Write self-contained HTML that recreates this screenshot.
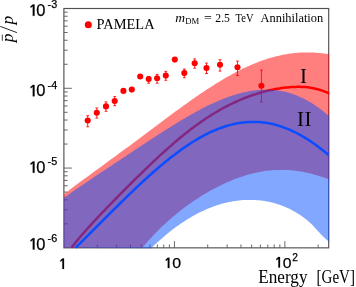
<!DOCTYPE html>
<html><head><meta charset="utf-8"><title>chart</title>
<style>
html,body{margin:0;padding:0;background:#fff;}
body{width:356px;height:287px;overflow:hidden;position:relative;font-family:"Liberation Sans",sans-serif;}
svg{position:absolute;left:0;top:0;display:block;will-change:transform;}
text{fill:#000;}
.sans{font-family:"Liberation Sans",sans-serif;}
.serif{font-family:"Liberation Serif",serif;}
</style></head><body>
<svg width="356" height="287" viewBox="0 0 356 287">
<defs><clipPath id="cp"><rect x="63.9" y="8.5" width="265.40000000000003" height="239.95"/></clipPath></defs>
<rect x="0" y="0" width="356" height="287" fill="#fff"/>
<path d="M97.25 247.85 V244.45 M116.70 247.85 V244.45 M130.50 247.85 V244.45 M141.20 247.85 V244.45 M149.95 247.85 V244.45 M157.34 247.85 V244.45 M163.75 247.85 V244.45 M169.40 247.85 V244.45 M174.45 247.85 V241.05 M207.70 247.85 V244.45 M227.15 247.85 V244.45 M240.95 247.85 V244.45 M251.65 247.85 V244.45 M260.40 247.85 V244.45 M267.79 247.85 V244.45 M274.20 247.85 V244.45 M279.85 247.85 V244.45 M284.90 247.85 V241.05 M318.15 247.85 V244.45 M63.90 223.83 H67.70 M63.90 209.79 H67.70 M63.90 199.82 H67.70 M63.90 192.09 H67.70 M63.90 185.77 H67.70 M63.90 180.43 H67.70 M63.90 175.80 H67.70 M63.90 171.72 H67.70 M63.90 168.07 H71.90 M63.90 144.05 H67.70 M63.90 130.01 H67.70 M63.90 120.04 H67.70 M63.90 112.31 H67.70 M63.90 105.99 H67.70 M63.90 100.65 H67.70 M63.90 96.02 H67.70 M63.90 91.94 H67.70 M63.90 88.29 H71.90 M63.90 64.27 H67.70 M63.90 50.23 H67.70 M63.90 40.26 H67.70 M63.90 32.53 H67.70 M63.90 26.21 H67.70 M63.90 20.87 H67.70 M63.90 16.24 H67.70 M63.90 12.16 H67.70" stroke="#505050" stroke-width="0.85" fill="none"/>
<rect x="63.9" y="8.5" width="264.8" height="239.35" fill="none" stroke="#505050" stroke-width="1.15"/>
<g clip-path="url(#cp)">
<path d="M64.0 194.3 L66.0 192.7 L68.0 191.2 L70.0 189.6 L72.0 188.1 L74.0 186.6 L76.0 185.1 L78.0 183.6 L80.0 182.1 L82.0 180.6 L84.0 179.1 L86.0 177.7 L88.0 176.2 L90.0 174.7 L92.0 173.3 L94.0 171.8 L96.0 170.3 L98.0 168.9 L100.0 167.4 L102.0 165.9 L104.0 164.5 L106.0 163.0 L108.0 161.6 L110.0 160.1 L112.0 158.6 L114.0 157.2 L116.0 155.7 L118.0 154.2 L120.0 152.8 L122.0 151.3 L124.0 149.8 L126.0 148.3 L128.0 146.9 L130.0 145.4 L132.0 143.9 L134.0 142.4 L136.0 140.9 L138.0 139.4 L140.0 137.9 L142.0 136.4 L144.0 134.9 L146.0 133.4 L148.0 132.0 L150.0 130.5 L152.0 129.0 L154.0 127.5 L156.0 126.0 L158.0 124.5 L160.0 123.0 L162.0 121.5 L164.0 120.0 L166.0 118.5 L168.0 117.0 L170.0 115.5 L172.0 114.1 L174.0 112.6 L176.0 111.1 L178.0 109.7 L180.0 108.2 L182.0 106.8 L184.0 105.3 L186.0 103.9 L188.0 102.5 L190.0 101.0 L192.0 99.6 L194.0 98.2 L196.0 96.8 L198.0 95.5 L200.0 94.1 L202.0 92.7 L204.0 91.4 L206.0 90.1 L208.0 88.7 L210.0 87.4 L212.0 86.2 L214.0 84.9 L216.0 83.6 L218.0 82.4 L220.0 81.2 L222.0 80.0 L224.0 78.8 L226.0 77.6 L228.0 76.5 L230.0 75.4 L232.0 74.3 L234.0 73.2 L236.0 72.1 L238.0 71.1 L240.0 70.1 L242.0 69.1 L244.0 68.1 L246.0 67.2 L248.0 66.3 L250.0 65.4 L252.0 64.5 L254.0 63.7 L256.0 62.9 L258.0 62.1 L260.0 61.3 L262.0 60.6 L264.0 59.9 L266.0 59.2 L268.0 58.6 L270.0 58.0 L272.0 57.4 L274.0 56.9 L276.0 56.3 L278.0 55.9 L280.0 55.4 L282.0 55.0 L284.0 54.6 L286.0 54.2 L288.0 53.9 L290.0 53.6 L292.0 53.4 L294.0 53.1 L296.0 52.9 L298.0 52.8 L300.0 52.6 L302.0 52.5 L304.0 52.5 L306.0 52.4 L308.0 52.4 L310.0 52.5 L312.0 52.5 L314.0 52.6 L316.0 52.7 L318.0 52.9 L320.0 53.1 L322.0 53.3 L324.0 53.6 L326.0 53.8 L328.0 54.1 L329.7 54.4 L329.7 179.7 L328.5 179.2 L326.5 178.5 L324.5 177.8 L322.5 177.1 L320.5 176.5 L318.5 175.8 L316.5 175.2 L314.5 174.7 L312.5 174.1 L310.5 173.6 L308.5 173.1 L306.5 172.7 L304.5 172.2 L302.5 171.8 L300.5 171.5 L298.5 171.2 L296.5 170.9 L294.5 170.6 L292.5 170.4 L290.5 170.2 L288.5 170.1 L286.5 170.0 L284.5 169.9 L282.5 169.9 L280.5 169.9 L278.5 169.9 L276.5 170.0 L274.5 170.1 L272.5 170.2 L270.5 170.4 L268.5 170.6 L266.5 170.8 L264.5 171.1 L262.5 171.4 L260.5 171.8 L258.5 172.2 L256.5 172.6 L254.5 173.0 L252.5 173.5 L250.5 174.0 L248.5 174.6 L246.5 175.1 L244.5 175.7 L242.5 176.4 L240.5 177.1 L238.5 177.8 L236.5 178.5 L234.5 179.3 L232.5 180.0 L230.5 180.9 L228.5 181.7 L226.5 182.6 L224.5 183.5 L222.5 184.4 L220.5 185.4 L218.5 186.4 L216.5 187.4 L214.5 188.5 L212.5 189.5 L210.5 190.6 L208.5 191.8 L206.5 192.9 L204.5 194.1 L202.5 195.3 L200.5 196.6 L198.5 197.9 L196.5 199.2 L194.5 200.5 L192.5 201.8 L190.5 203.2 L188.5 204.6 L186.5 206.1 L184.5 207.6 L182.5 209.1 L180.5 210.6 L178.5 212.2 L176.5 213.8 L174.5 215.5 L172.5 217.1 L170.5 218.9 L168.5 220.6 L166.5 222.4 L164.5 224.3 L162.5 226.1 L160.5 228.1 L158.5 230.0 L156.5 232.0 L154.5 234.1 L152.5 236.2 L150.5 238.4 L148.5 240.6 L146.5 242.9 L144.5 245.2 L142.5 247.6 L63.9 247.8 Z" fill="#ff0000" fill-opacity="0.5"/>
<path d="M71.5 247.6 L73.5 245.1 L75.5 242.6 L77.5 240.1 L79.5 237.7 L81.5 235.4 L83.5 233.1 L85.5 230.8 L87.5 228.5 L89.5 226.3 L91.5 224.1 L93.5 221.9 L95.5 219.8 L97.5 217.6 L99.5 215.5 L101.5 213.4 L103.5 211.3 L105.5 209.3 L107.5 207.2 L109.5 205.1 L111.5 203.1 L113.5 201.0 L115.5 199.0 L117.5 197.0 L119.5 194.9 L121.5 192.9 L123.5 190.9 L125.5 188.9 L127.5 186.9 L129.5 184.9 L131.5 182.9 L133.5 180.9 L135.5 178.9 L137.5 177.0 L139.5 175.0 L141.5 173.1 L143.5 171.1 L145.5 169.2 L147.5 167.3 L149.5 165.3 L151.5 163.4 L153.5 161.5 L155.5 159.7 L157.5 157.8 L159.5 155.9 L161.5 154.1 L163.5 152.3 L165.5 150.5 L167.5 148.7 L169.5 146.9 L171.5 145.2 L173.5 143.4 L175.5 141.7 L177.5 140.0 L179.5 138.3 L181.5 136.7 L183.5 135.1 L185.5 133.5 L187.5 131.9 L189.5 130.3 L191.5 128.8 L193.5 127.3 L195.5 125.8 L197.5 124.4 L199.5 122.9 L201.5 121.5 L203.5 120.2 L205.5 118.8 L207.5 117.5 L209.5 116.2 L211.5 114.9 L213.5 113.7 L215.5 112.5 L217.5 111.3 L219.5 110.2 L221.5 109.0 L223.5 107.9 L225.5 106.9 L227.5 105.8 L229.5 104.8 L231.5 103.8 L233.5 102.9 L235.5 102.0 L237.5 101.1 L239.5 100.2 L241.5 99.3 L243.5 98.5 L245.5 97.7 L247.5 97.0 L249.5 96.2 L251.5 95.5 L253.5 94.8 L255.5 94.2 L257.5 93.6 L259.5 93.0 L261.5 92.4 L263.5 91.8 L265.5 91.3 L267.5 90.8 L269.5 90.3 L271.5 89.9 L273.5 89.5 L275.5 89.1 L277.5 88.7 L279.5 88.4 L281.5 88.1 L283.5 87.8 L285.5 87.6 L287.5 87.4 L289.5 87.2 L291.5 87.0 L293.5 86.9 L295.5 86.9 L297.5 86.8 L299.5 86.8 L301.5 86.9 L303.5 87.0 L305.5 87.1 L307.5 87.3 L309.5 87.6 L311.5 87.9 L313.5 88.2 L315.5 88.7 L317.5 89.2 L319.5 89.7 L321.5 90.4 L323.5 91.1 L325.5 91.9 L327.5 92.7 L329.5 93.7 L329.7 93.8" fill="none" stroke="#ff0000" stroke-width="2.5" stroke-linejoin="round"/>
<path d="M87.7 115.7 V126.8" stroke="#ff0000" stroke-width="0.85" fill="none"/><path d="M86.3 115.7 H89.1 M86.3 126.8 H89.1" stroke="#ff0000" stroke-width="0.85" fill="none"/><circle cx="87.7" cy="120.6" r="3.05" fill="#ff0000"/><path d="M96.8 108.0 V118.1" stroke="#ff0000" stroke-width="0.85" fill="none"/><path d="M95.4 108.0 H98.2 M95.4 118.1 H98.2" stroke="#ff0000" stroke-width="0.85" fill="none"/><circle cx="96.8" cy="112.8" r="3.05" fill="#ff0000"/><path d="M106.0 101.9 V111.3" stroke="#ff0000" stroke-width="0.85" fill="none"/><path d="M104.6 101.9 H107.4 M104.6 111.3 H107.4" stroke="#ff0000" stroke-width="0.85" fill="none"/><circle cx="106.0" cy="106.4" r="3.05" fill="#ff0000"/><path d="M114.7 96.6 V105.7" stroke="#ff0000" stroke-width="0.85" fill="none"/><path d="M113.3 96.6 H116.1 M113.3 105.7 H116.1" stroke="#ff0000" stroke-width="0.85" fill="none"/><circle cx="114.7" cy="101.0" r="3.05" fill="#ff0000"/><circle cx="123.4" cy="90.9" r="3.05" fill="#ff0000"/><circle cx="131.8" cy="89.6" r="3.05" fill="#ff0000"/><circle cx="140.2" cy="76.5" r="3.05" fill="#ff0000"/><path d="M148.7 76.4 V83.2" stroke="#ff0000" stroke-width="0.85" fill="none"/><path d="M147.2 76.4 H150.1 M147.2 83.2 H150.1" stroke="#ff0000" stroke-width="0.85" fill="none"/><circle cx="148.7" cy="79.0" r="3.05" fill="#ff0000"/><path d="M157.1 74.4 V83.2" stroke="#ff0000" stroke-width="0.85" fill="none"/><path d="M155.7 74.4 H158.5 M155.7 83.2 H158.5" stroke="#ff0000" stroke-width="0.85" fill="none"/><circle cx="157.1" cy="78.3" r="3.05" fill="#ff0000"/><path d="M165.8 71.4 V80.3" stroke="#ff0000" stroke-width="0.85" fill="none"/><path d="M164.4 71.4 H167.2 M164.4 80.3 H167.2" stroke="#ff0000" stroke-width="0.85" fill="none"/><circle cx="165.8" cy="75.6" r="3.05" fill="#ff0000"/><circle cx="174.8" cy="59.6" r="3.05" fill="#ff0000"/><path d="M184.3 69.0 V77.8" stroke="#ff0000" stroke-width="0.85" fill="none"/><path d="M182.9 69.0 H185.7 M182.9 77.8 H185.7" stroke="#ff0000" stroke-width="0.85" fill="none"/><circle cx="184.3" cy="73.1" r="3.05" fill="#ff0000"/><path d="M194.7 58.9 V68.2" stroke="#ff0000" stroke-width="0.85" fill="none"/><path d="M193.3 58.9 H196.1 M193.3 68.2 H196.1" stroke="#ff0000" stroke-width="0.85" fill="none"/><circle cx="194.7" cy="63.3" r="3.05" fill="#ff0000"/><path d="M206.5 63.1 V73.5" stroke="#ff0000" stroke-width="0.85" fill="none"/><path d="M205.1 63.1 H207.9 M205.1 73.5 H207.9" stroke="#ff0000" stroke-width="0.85" fill="none"/><circle cx="206.5" cy="68.0" r="3.05" fill="#ff0000"/><path d="M220.0 59.7 V71.1" stroke="#ff0000" stroke-width="0.85" fill="none"/><path d="M218.6 59.7 H221.4 M218.6 71.1 H221.4" stroke="#ff0000" stroke-width="0.85" fill="none"/><circle cx="220.0" cy="64.8" r="3.05" fill="#ff0000"/><path d="M237.5 61.1 V75.5" stroke="#ff0000" stroke-width="0.85" fill="none"/><path d="M236.1 61.1 H238.9 M236.1 75.5 H238.9" stroke="#ff0000" stroke-width="0.85" fill="none"/><circle cx="237.5" cy="67.2" r="3.05" fill="#ff0000"/><path d="M261.4 70.1 V102.1" stroke="#ff0000" stroke-width="0.85" fill="none"/><path d="M260.0 70.1 H262.8 M260.0 102.1 H262.8" stroke="#ff0000" stroke-width="0.85" fill="none"/><circle cx="261.4" cy="85.7" r="3.05" fill="#ff0000"/>
<path d="M64.0 197.8 L66.0 196.3 L68.0 194.9 L70.0 193.5 L72.0 192.1 L74.0 190.7 L76.0 189.3 L78.0 188.0 L80.0 186.6 L82.0 185.2 L84.0 183.9 L86.0 182.5 L88.0 181.2 L90.0 179.8 L92.0 178.5 L94.0 177.1 L96.0 175.8 L98.0 174.5 L100.0 173.1 L102.0 171.8 L104.0 170.5 L106.0 169.2 L108.0 167.8 L110.0 166.5 L112.0 165.2 L114.0 163.8 L116.0 162.5 L118.0 161.2 L120.0 159.9 L122.0 158.5 L124.0 157.2 L126.0 155.9 L128.0 154.6 L130.0 153.2 L132.0 151.9 L134.0 150.6 L136.0 149.3 L138.0 147.9 L140.0 146.6 L142.0 145.3 L144.0 144.0 L146.0 142.7 L148.0 141.3 L150.0 140.0 L152.0 138.7 L154.0 137.4 L156.0 136.1 L158.0 134.8 L160.0 133.5 L162.0 132.3 L164.0 131.0 L166.0 129.7 L168.0 128.4 L170.0 127.2 L172.0 125.9 L174.0 124.7 L176.0 123.5 L178.0 122.3 L180.0 121.0 L182.0 119.8 L184.0 118.7 L186.0 117.5 L188.0 116.3 L190.0 115.2 L192.0 114.0 L194.0 112.9 L196.0 111.8 L198.0 110.7 L200.0 109.7 L202.0 108.6 L204.0 107.6 L206.0 106.6 L208.0 105.6 L210.0 104.6 L212.0 103.7 L214.0 102.8 L216.0 101.9 L218.0 101.0 L220.0 100.2 L222.0 99.3 L224.0 98.5 L226.0 97.8 L228.0 97.0 L230.0 96.3 L232.0 95.7 L234.0 95.0 L236.0 94.4 L238.0 93.8 L240.0 93.3 L242.0 92.8 L244.0 92.3 L246.0 91.9 L248.0 91.5 L250.0 91.1 L252.0 90.8 L254.0 90.5 L256.0 90.3 L258.0 90.1 L260.0 89.9 L262.0 89.8 L264.0 89.7 L266.0 89.7 L268.0 89.7 L270.0 89.8 L272.0 89.9 L274.0 90.1 L276.0 90.3 L278.0 90.5 L280.0 90.8 L282.0 91.2 L284.0 91.6 L286.0 92.1 L288.0 92.6 L290.0 93.2 L292.0 93.8 L294.0 94.5 L296.0 95.2 L298.0 96.0 L300.0 96.9 L302.0 97.8 L304.0 98.8 L306.0 99.8 L308.0 100.9 L310.0 102.1 L312.0 103.3 L314.0 104.5 L316.0 105.9 L318.0 107.3 L320.0 108.7 L322.0 110.3 L324.0 111.9 L326.0 113.5 L328.0 115.2 L329.7 116.7 L329.7 241.9 L328.9 241.4 L326.9 240.0 L324.9 238.3 L322.9 236.3 L320.9 234.2 L318.9 232.1 L316.9 229.9 L314.9 227.7 L312.9 225.6 L310.9 223.6 L308.9 221.8 L306.9 220.0 L304.9 218.4 L302.9 217.0 L300.9 215.6 L298.9 214.2 L296.9 213.0 L294.9 211.8 L292.9 210.7 L290.9 209.6 L288.9 208.6 L286.9 207.7 L284.9 206.8 L282.9 206.0 L280.9 205.2 L278.9 204.5 L276.9 203.9 L274.9 203.3 L272.9 202.7 L270.9 202.2 L268.9 201.8 L266.9 201.4 L264.9 201.1 L262.9 200.8 L260.9 200.5 L258.9 200.3 L256.9 200.2 L254.9 200.0 L252.9 200.0 L250.9 199.9 L248.9 199.9 L246.9 199.9 L244.9 200.0 L242.9 200.1 L240.9 200.3 L238.9 200.5 L236.9 200.7 L234.9 201.0 L232.9 201.3 L230.9 201.7 L228.9 202.1 L226.9 202.5 L224.9 203.0 L222.9 203.5 L220.9 204.1 L218.9 204.7 L216.9 205.3 L214.9 206.0 L212.9 206.7 L210.9 207.5 L208.9 208.2 L206.9 209.1 L204.9 210.0 L202.9 210.9 L200.9 211.8 L198.9 212.8 L196.9 213.8 L194.9 214.9 L192.9 216.0 L190.9 217.2 L188.9 218.4 L186.9 219.6 L184.9 220.9 L182.9 222.2 L180.9 223.5 L178.9 224.9 L176.9 226.3 L174.9 227.8 L172.9 229.3 L170.9 230.8 L168.9 232.4 L166.9 234.1 L164.9 235.7 L162.9 237.4 L160.9 239.2 L158.9 240.9 L156.9 242.8 L154.9 244.6 L152.9 246.5 L150.9 248.4 L63.9 247.8 Z" fill="#0550ff" fill-opacity="0.5"/>
<path d="M75.5 247.8 L77.5 245.8 L79.5 243.9 L81.5 241.9 L83.5 239.9 L85.5 237.9 L87.5 235.9 L89.5 233.9 L91.5 231.9 L93.5 229.9 L95.5 227.9 L97.5 225.9 L99.5 223.9 L101.5 221.9 L103.5 219.9 L105.5 217.9 L107.5 215.9 L109.5 213.9 L111.5 211.9 L113.5 209.9 L115.5 207.9 L117.5 206.0 L119.5 204.0 L121.5 202.0 L123.5 200.1 L125.5 198.1 L127.5 196.2 L129.5 194.2 L131.5 192.3 L133.5 190.4 L135.5 188.5 L137.5 186.6 L139.5 184.7 L141.5 182.9 L143.5 181.0 L145.5 179.2 L147.5 177.3 L149.5 175.5 L151.5 173.8 L153.5 172.0 L155.5 170.2 L157.5 168.5 L159.5 166.8 L161.5 165.1 L163.5 163.4 L165.5 161.8 L167.5 160.2 L169.5 158.6 L171.5 157.0 L173.5 155.4 L175.5 153.9 L177.5 152.4 L179.5 150.9 L181.5 149.5 L183.5 148.1 L185.5 146.7 L187.5 145.4 L189.5 144.0 L191.5 142.7 L193.5 141.5 L195.5 140.3 L197.5 139.1 L199.5 137.9 L201.5 136.8 L203.5 135.7 L205.5 134.7 L207.5 133.7 L209.5 132.7 L211.5 131.7 L213.5 130.8 L215.5 130.0 L217.5 129.2 L219.5 128.4 L221.5 127.7 L223.5 127.0 L225.5 126.3 L227.5 125.7 L229.5 125.1 L231.5 124.6 L233.5 124.1 L235.5 123.7 L237.5 123.3 L239.5 123.0 L241.5 122.7 L243.5 122.4 L245.5 122.2 L247.5 122.1 L249.5 121.9 L251.5 121.9 L253.5 121.9 L255.5 121.9 L257.5 122.0 L259.5 122.1 L261.5 122.3 L263.5 122.5 L265.5 122.8 L267.5 123.1 L269.5 123.4 L271.5 123.8 L273.5 124.3 L275.5 124.8 L277.5 125.4 L279.5 126.0 L281.5 126.6 L283.5 127.3 L285.5 128.1 L287.5 128.9 L289.5 129.7 L291.5 130.6 L293.5 131.5 L295.5 132.5 L297.5 133.5 L299.5 134.6 L301.5 135.7 L303.5 136.9 L305.5 138.1 L307.5 139.3 L309.5 140.6 L311.5 142.0 L313.5 143.3 L315.5 144.7 L317.5 146.2 L319.5 147.7 L321.5 149.2 L323.5 150.8 L325.5 152.4 L327.5 154.0 L328.7 155.0" fill="none" stroke="#0a4cff" stroke-width="2.5" stroke-linejoin="round"/>
</g>

<g class="sans" font-size="16.4" stroke="#000" stroke-width="0.25">
<path d="M32.80 4.40 H34.50 V15.80 H32.80 V6.24 L30.76 7.79 L30.41 6.57 Z" fill="#000"/><text x="36.16" y="15.8" font-size="16.4" textLength="9.19" lengthAdjust="spacingAndGlyphs">0</text><text x="47.6" y="8.200000000000001" font-size="10.5" textLength="9.6" lengthAdjust="spacingAndGlyphs">-3</text>
<path d="M32.80 84.90 H34.50 V96.30 H32.80 V86.74 L30.76 88.29 L30.41 87.07 Z" fill="#000"/><text x="36.16" y="96.3" font-size="16.4" textLength="9.19" lengthAdjust="spacingAndGlyphs">0</text><text x="47.6" y="88.7" font-size="10.5" textLength="9.6" lengthAdjust="spacingAndGlyphs">-4</text>
<path d="M32.80 161.40 H34.50 V172.80 H32.80 V163.24 L30.76 164.79 L30.41 163.57 Z" fill="#000"/><text x="36.16" y="172.8" font-size="16.4" textLength="9.19" lengthAdjust="spacingAndGlyphs">0</text><text x="47.6" y="165.20000000000002" font-size="10.5" textLength="9.6" lengthAdjust="spacingAndGlyphs">-5</text>
<path d="M32.80 238.20 H34.50 V249.60 H32.80 V240.04 L30.76 241.59 L30.41 240.37 Z" fill="#000"/><text x="36.16" y="249.6" font-size="16.4" textLength="9.19" lengthAdjust="spacingAndGlyphs">0</text><text x="47.6" y="242.0" font-size="10.5" textLength="9.6" lengthAdjust="spacingAndGlyphs">-6</text>
</g>
<g class="sans" font-size="15.2" stroke="#000" stroke-width="0.25">
<path d="M62.40 258.50 H64.00 V268.90 H62.40 V260.23 L60.57 261.63 L60.22 260.48 Z" fill="#000"/>
<path d="M167.80 257.80 H169.40 V268.10 H167.80 V259.53 L165.99 260.91 L165.64 259.76 Z" fill="#000"/><text x="172.18" y="268.2" font-size="15.2" textLength="8.83" lengthAdjust="spacingAndGlyphs">0</text>
<path d="M278.40 257.10 H280.00 V267.40 H278.40 V258.83 L276.59 260.21 L276.24 259.06 Z" fill="#000"/><text x="282.74" y="267.5" font-size="15.2" textLength="8.72" lengthAdjust="spacingAndGlyphs">0</text>
<text x="292.2" y="261.0" font-size="10.1">2</text>
</g>
<g class="serif">
<text x="258.2" y="282.7" font-size="17.8" textLength="49.3" lengthAdjust="spacingAndGlyphs">Energy</text>
<text x="316.6" y="282.7" font-size="17.8" textLength="38.3" lengthAdjust="spacingAndGlyphs">[GeV]</text>
<text x="96.6" y="29.2" font-size="14.6" textLength="58" lengthAdjust="spacingAndGlyphs">PAMELA</text>
<text x="175.2" y="21.8" font-size="12.2" font-style="italic" textLength="9.8" lengthAdjust="spacingAndGlyphs">m</text>
<text x="185.2" y="23.8" font-size="7.8" textLength="14" lengthAdjust="spacingAndGlyphs">DM</text>
<text x="204.1" y="21.6" font-size="11.8" textLength="7.8" lengthAdjust="spacingAndGlyphs">=</text>
<text x="215.3" y="21.8" font-size="11.8" textLength="14.6" lengthAdjust="spacingAndGlyphs">2.5</text>
<text x="235.6" y="21.8" font-size="11.8" textLength="18" lengthAdjust="spacingAndGlyphs">TeV</text>
<text x="260.6" y="21.8" font-size="11.8" textLength="62.6" lengthAdjust="spacingAndGlyphs">Annihilation</text>
<text x="300.1" y="82.7" font-size="21">I</text>
<text x="296.9" y="126.1" font-size="21" letter-spacing="0.5">II</text>
<text transform="translate(12.5,42.2) rotate(-90)" font-size="17.5" font-style="italic">p</text>
<text transform="translate(12.5,24.6) rotate(-90)" font-size="17.5" font-style="italic">p</text>
<path d="M16.9 32.6 L0.3 26.4" stroke="#111" stroke-width="0.9" fill="none"/>
<path d="M2.3 34.6 V40.8" stroke="#111" stroke-width="0.8" fill="none"/>
</g>
<circle cx="88.3" cy="24.7" r="3.5" fill="#ff0000"/>

</svg>
</body></html>
